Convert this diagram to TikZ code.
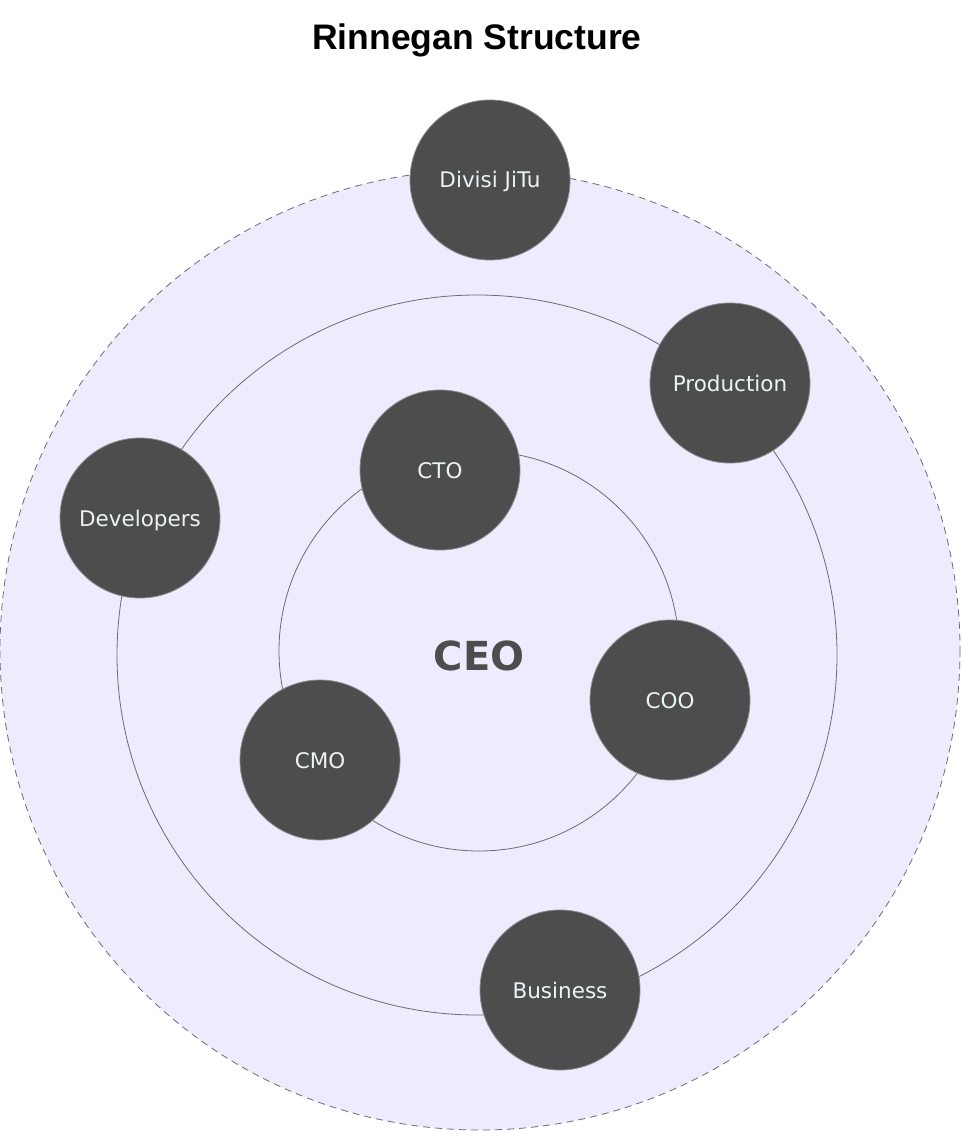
\documentclass[tikz,border=0pt]{standalone}
\usepackage{fontspec}
\setmainfont{DejaVu Sans}
\newfontfamily\titlefont{Liberation Sans}
\usepackage{tikz}
\usetikzlibrary{positioning}
\definecolor{lavender}{HTML}{EFEBFE}
\definecolor{ringgray}{HTML}{6B6B72}
\definecolor{bubble}{HTML}{4D4D4D}
\definecolor{bubbleedge}{HTML}{8A8A8A}
\definecolor{labeltext}{HTML}{EAF4F4}

\begin{document}
\begin{tikzpicture}[x=1pt,y=-1pt,
  ring/.style={draw=ringgray,line width=0.8pt},
  role/.style={circle,fill=bubble,draw=bubbleedge,line width=0.8pt,minimum size=160pt,
               inner sep=0pt,text=labeltext,font=\fontsize{21.5}{25}\selectfont,
               text height=16pt,text depth=0pt}]
\useasboundingbox (0,0) rectangle (962,1131);
% title
\node[font=\titlefont\bfseries\fontsize{35.5}{40}\selectfont] (title) at (477,40) {Rinnegan Structure};
% the three rings
\draw[ring,fill=lavender,dash pattern=on 7pt off 5pt] (480,650) circle (480);
\draw[ring] (477,655) circle (360);
\draw[ring] (479,651) circle (200);
\node[font=\bfseries\fontsize{40}{46}\selectfont,text=bubble] (ceo) at (479,656) {CEO};
% outer ring members
\node[role] (jitu) at (490,180) {Divisi JiTu};
\node[role] (prod) at (730,383) {Production};
\node[role] (dev) at (140,518) {Developers};
\node[role] (biz) at (560,990) {Business};
% inner ring members
\node[role] (cto) at (440,470) {CTO};
\node[role] (coo) at (670,700) {COO};
\node[role] (cmo) at (320,760) {CMO};
\end{tikzpicture}
\end{document}
